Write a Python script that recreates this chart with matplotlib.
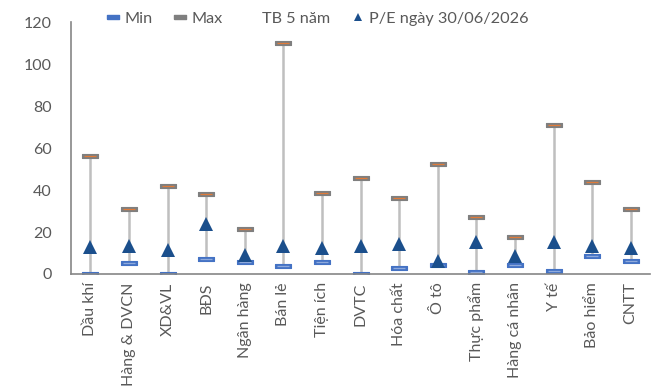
import matplotlib.pyplot as plt
from matplotlib.lines import Line2D
import numpy as np

plt.rcParams['font.family'] = ['Lato', 'DejaVu Sans']

# sectors and P/E values
sectors = ["Dầu khí", "Hàng & DVCN", "XD&VL", "BĐS", "Ngân hàng", "Bán lẻ",
           "Tiện ích", "DVTC", "Hóa chất", "Ô tô", "Thực phẩm",
           "Hàng cá nhân", "Y tế", "Bảo hiểm", "CNTT"]
pe_min = [0.0, 5.1, 0.0, 7.1, 5.6, 3.8, 5.6, 0.0, 3.0, 4.4, 1.1, 4.1, 1.6, 8.7, 6.3]
pe_max = [56.2, 30.8, 41.9, 38.1, 21.4, 110.0, 38.7, 45.9, 36.0, 52.4, 27.0, 17.5, 70.9, 43.8, 31.0]
pe_now = [12.8, 13.3, 11.6, 23.9, 8.9, 13.2, 12.5, 13.4, 14.2, 6.3, 15.1, 8.4, 15.2, 13.5, 12.6]

tick_color = "#595959"
bar_marker = [(-1, -0.28), (1, -0.28), (1, 0.28), (-1, 0.28), (-1, -0.28)]

fig = plt.figure(figsize=(6.52, 3.87), dpi=100)
ax = fig.add_axes([0.109, 0.292, 0.888, 0.651])

x = np.arange(len(sectors))
ax.vlines(x, pe_min, pe_max, color="#BFBFBF", linewidth=1.8, zorder=1)
# max: grey dash with thin orange core
ax.plot(x, pe_max, linestyle="none", marker=bar_marker, markersize=11,
        markerfacecolor="#808080", markeredgecolor="#7F7F7F", markeredgewidth=0.8, zorder=2)
ax.plot(x, pe_max, linestyle="none", marker="_", markersize=8,
        markeredgecolor="#E07B39", markeredgewidth=0.9, zorder=2.5)
# min: blue dash with light core
ax.plot(x, pe_min, linestyle="none", marker=bar_marker, markersize=11,
        markerfacecolor="#4472C4", markeredgecolor="#4472C4", markeredgewidth=0.8, zorder=2)
ax.plot(x, pe_min, linestyle="none", marker="_", markersize=8,
        markeredgecolor="#8FAADC", markeredgewidth=0.9, zorder=2.5)
ax.plot(x, pe_now, linestyle="none", marker="^", markersize=9.5,
        color="#1B4F8C", markeredgewidth=0, zorder=3)

ax.set_ylim(0, 120)
ax.set_yticks(range(0, 121, 20))
ax.set_xlim(-0.5, len(sectors) - 0.5)
ax.set_xticks(x)
ax.set_xticklabels(sectors, rotation=90)
ax.tick_params(axis="both", length=0, colors=tick_color, labelsize=11.5)
ax.tick_params(axis="x", pad=6)
ax.tick_params(axis="y", pad=14)
for s in ["top", "right"]:
    ax.spines[s].set_visible(False)
for s in ["left", "bottom"]:
    ax.spines[s].set_color("#868686")
    ax.spines[s].set_linewidth(1.2)

handles = [
    Line2D([], [], linestyle="none", marker=bar_marker, markersize=8,
           markerfacecolor="#4472C4", markeredgecolor="#4472C4"),
    Line2D([], [], linestyle="none", marker=bar_marker, markersize=8,
           markerfacecolor="#7F7F7F", markeredgecolor="#7F7F7F"),
    Line2D([], [], linestyle="none"),
    Line2D([], [], linestyle="none", marker="^", markersize=6,
           color="#1B4F8C", markeredgewidth=0),
]
labels = ["Min", "Max", "TB 5 năm", "P/E ngày 30/06/2026"]
fig.legend(handles, labels, loc="center", bbox_to_anchor=(0.487, 0.952), ncol=4,
           frameon=False, fontsize=11.7, labelcolor=tick_color, handlelength=0.8,
           handletextpad=0.3, columnspacing=1.3)

fig.savefig("out.png", dpi=100)
